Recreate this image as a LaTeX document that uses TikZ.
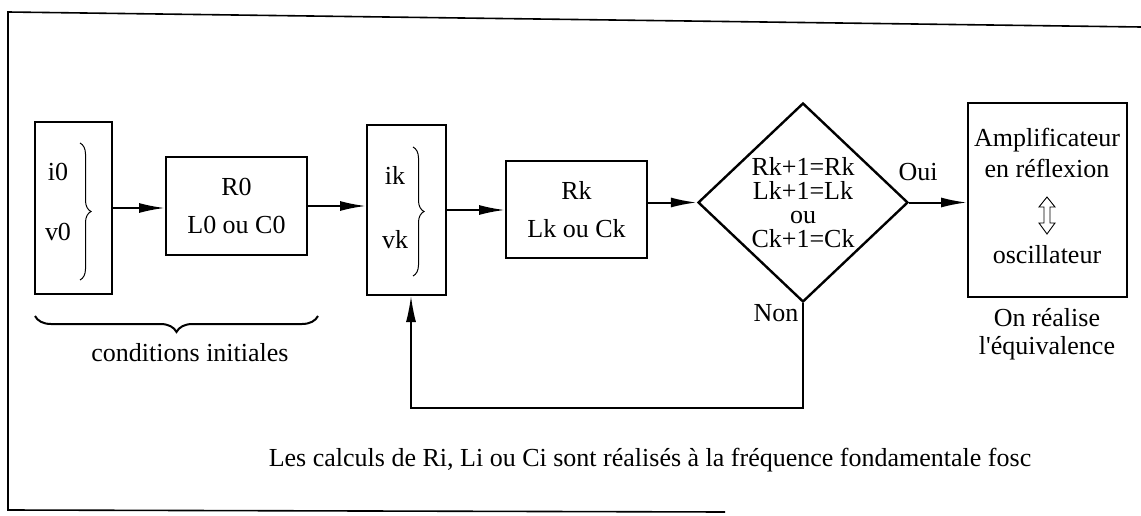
\documentclass[tikz,border=0pt]{standalone}
\usepackage{fontspec}
\setmainfont{Liberation Serif}
\usetikzlibrary{arrows.meta,shapes.geometric,decorations.pathreplacing,calc}
\begin{document}
\begin{tikzpicture}[x=1pt,y=-1pt,
  every node/.style={font=\fontsize{26}{24}\selectfont},
  blk/.style={draw,line width=2pt,inner sep=0pt},
  conn/.style={line width=2pt,-{Latex[length=26pt,width=10pt]}},
  lbl/.style={inner sep=0pt},
  brc/.style={line width=1pt,decorate,decoration={brace,amplitude=11pt}}]
\useasboundingbox (0,0) rectangle (1141,516);
% frame
\draw[line width=1.6pt] (1141,27) -- (8,12) -- (8,510) -- (725,512);

% blocks
\node[blk,minimum width=77pt,minimum height=172pt] (b1) at (73.5,208) {};
\node[lbl] (i0) at (58,172) {i0};
\node[lbl] (v0) at (58,232) {v0};
\draw[brc] (80,143) -- (80,280);

\node[blk,minimum width=141pt,minimum height=98pt,align=center] (r0) at (236.5,206) {R0\\[14pt]L0 ou C0};

\node[blk,minimum width=79pt,minimum height=170pt] (ik) at (406.5,210) {};
\node[lbl] (iklbl) at (395,175) {ik};
\node[lbl] (vklbl) at (395,240) {vk};
\draw[brc] (413,147) -- (413,276);

\node[blk,minimum width=141pt,minimum height=97pt,align=center] (rk) at (576.5,209.5) {Rk\\[14pt]Lk ou Ck};

\node[blk,line width=2.4pt,diamond,minimum width=210pt,minimum height=199pt,align=center] (dia) at (803,202.5)
  {Rk+1=Rk\\Lk+1=Lk\\ou\\Ck+1=Ck};

\node[blk,minimum width=159pt,minimum height=194pt] (amp) at (1047.5,200) {};
\node[lbl] (amp1) at (1047,140) {Amplificateur};
\node[lbl] (amp2) at (1047,168) {en réflexion};
\node[lbl] (amp3) at (1047,255) {oscillateur};
\draw[line width=0.9pt] (1047,197) -- (1039,207) -- (1044,207) -- (1044,223) -- (1039,223)
  -- (1047,234) -- (1055,223) -- (1050,223) -- (1050,207) -- (1055,207) -- cycle;

% labels
\node[lbl] (oui) at (918,172) {Oui};
\node[lbl] (non) at (776,313) {Non};
\node[lbl] (onr) at (1047,318) {On réalise};
\node[lbl] (equ) at (1047,348) {l\textquotesingle équivalence};
\node[lbl] (ci) at (190,353) {conditions initiales};
\node[lbl] (calc) at (650,460) {Les calculs de Ri, Li ou Ci sont réalisés à la fréquence fondamentale fosc};

\draw[line width=2pt,decorate,decoration={brace,amplitude=16pt}] (318,316) -- (35,316);

% connectors
\draw[conn] (b1.east) -- (b1.east -| r0.west);
\draw[conn] (r0.east) -- (r0.east -| ik.west);
\draw[conn] (ik.east) -- (ik.east -| rk.west);
\draw[conn] (dia.west -| rk.east) -- (dia.west);
\draw[conn] (dia.east) -- (dia.east -| amp.west);
\coordinate (fb) at (411,408);
\draw[conn,line width=1.5pt] (dia.south) |- (fb) -- (fb |- ik.south);
\end{tikzpicture}
\end{document}
